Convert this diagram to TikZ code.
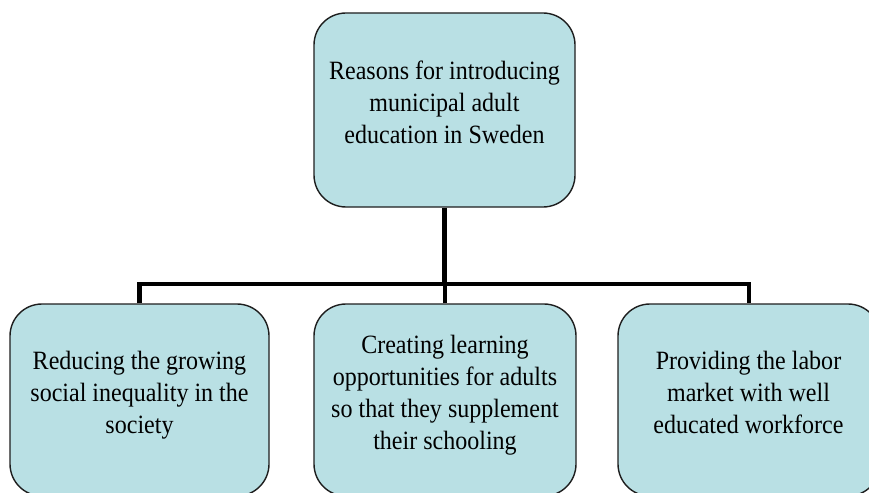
\documentclass[tikz,border=0pt]{standalone}
\usepackage{fontspec}
\setmainfont[FakeStretch=0.91]{Liberation Serif}
\definecolor{boxfill}{RGB}{185,224,228}
\definecolor{boxline}{RGB}{30,30,30}
\begin{document}
\begin{tikzpicture}[x=1pt,y=-1pt,
  box/.style={draw=boxline, line width=1.4pt, fill=boxfill, rounded corners=32pt,
    inner sep=0pt, minimum height=192pt},
  txt/.style={align=center, inner sep=0pt, font=\fontsize{26.4}{32}\selectfont, text=black},
  conn/.style={line width=4.3pt, draw=black, line join=miter, line cap=butt}]
\useasboundingbox (0,0) rectangle (869,492);
\clip (0,0) rectangle (869,492);
% boxes
\node[box, minimum width=261pt, minimum height=194pt] (top) at (444.5,110) {};
\node[box, minimum width=259pt] (lft) at (139.5,400) {};
\node[box, minimum width=262pt] (mid) at (445,400) {};
\node[box, minimum width=262pt] (rgt) at (749,400) {};
% texts
\node[txt] (toptext) at (444.5,104.6) {\strut Reasons for introducing\\municipal adult\\education in Sweden\strut};
\node[txt] (lfttext) at (139.5,394.6) {\strut Reducing the growing\\social inequality in the\\society\strut};
\node[txt] (midtext) at (445,394.6) {\strut Creating learning\\opportunities for adults\\so that they supplement\\their schooling\strut};
\node[txt] (rgttext) at (748.5,394.6) {\strut Providing the labor\\market with well\\educated workforce\strut};
% connectors
\coordinate (bus) at (444.5,284);
\draw[conn] (top.south) -- (top.south |- bus);
\draw[conn] (lft.north) -- (lft.north |- bus) -- (rgt.north |- bus) -- (rgt.north);
\draw[conn] (mid.north) -- (mid.north |- bus);
\end{tikzpicture}
\end{document}
